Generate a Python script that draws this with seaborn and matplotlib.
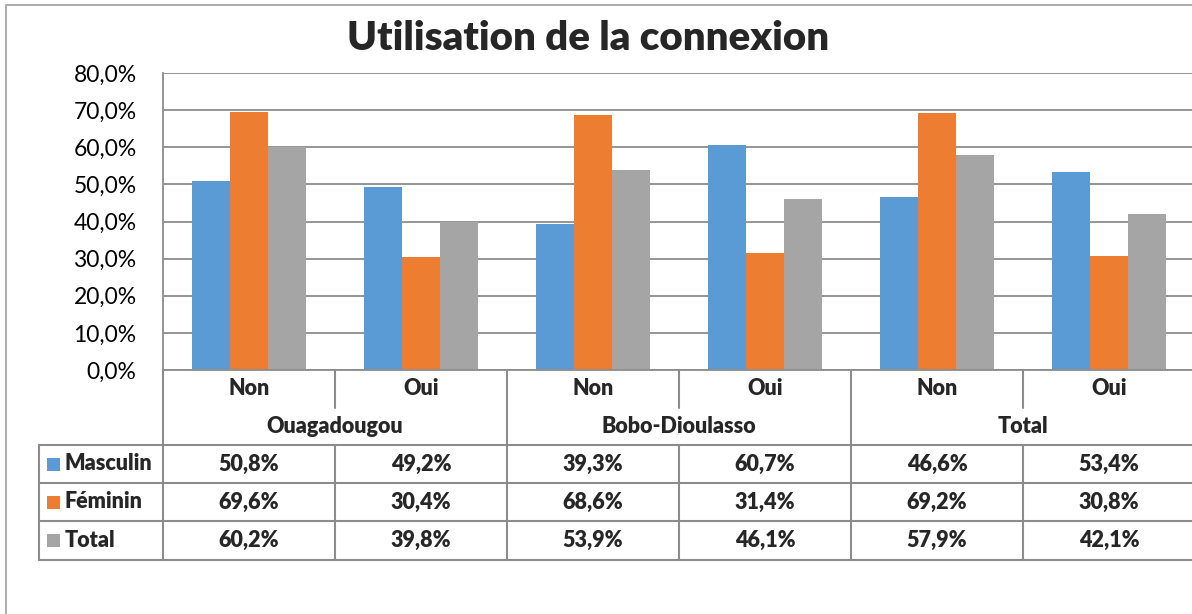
import pandas as pd
import matplotlib.pyplot as plt
import seaborn as sns
from matplotlib.ticker import FuncFormatter
from matplotlib.transforms import blended_transform_factory
from matplotlib.patches import Rectangle

sns.set_style("white")
plt.rcParams["font.family"] = ["Lato", "DejaVu Sans"]

villes = ["Ouagadougou", "Bobo-Dioulasso", "Total"]
reponses = ["Non", "Oui"]
sexes = ["Masculin", "Féminin", "Total"]
masculin = [50.8, 49.2, 39.3, 60.7, 46.6, 53.4]
feminin = [69.6, 30.4, 68.6, 31.4, 69.2, 30.8]
total = [60.2, 39.8, 53.9, 46.1, 57.9, 42.1]
couleurs = ["#5B9BD5", "#ED7D31", "#A5A5A5"]

groupes = [f"{v} {r}" for v in villes for r in reponses]
series = {"Masculin": masculin, "Féminin": feminin, "Total": total}
rows = []
for sexe, vals in series.items():
    for g, val in zip(groupes, vals):
        rows.append({"groupe": g, "sexe": sexe, "valeur": val})
df = pd.DataFrame(rows)

W, H = 1192, 614
fig = plt.figure(figsize=(W / 100, H / 100), dpi=100)
ax = fig.add_axes([163 / W, 1 - 370 / H, 1032 / W, 297 / H])

sns.barplot(data=df, x="groupe", y="valeur", hue="sexe", order=groupes,
            hue_order=sexes, palette=couleurs, width=0.663, gap=0,
            saturation=1, legend=False, ax=ax, edgecolor="none")

grid_c = "#8c8c8c"
ax.set_ylim(0, 80)
ax.set_xlim(-0.5, 5.5)
ax.set_yticks(range(0, 81, 10))
ax.yaxis.set_major_formatter(FuncFormatter(lambda v, p: f"{v:.1f}%".replace(".", ",")))
ax.tick_params(axis="y", length=0, pad=19, labelsize=16.5, labelcolor="black")
ax.set_xticks([])
ax.set_xlabel("")
ax.set_ylabel("")
ax.set_axisbelow(True)
ax.yaxis.grid(True, color=grid_c, lw=1.3)
for s in ["top", "right"]:
    ax.spines[s].set_visible(False)
for s in ["left", "bottom"]:
    ax.spines[s].set_color(grid_c)
    ax.spines[s].set_linewidth(1.3)

# tableau de données sous le graphique
tr = blended_transform_factory(ax.transData, ax.transAxes)


def ya(px):
    return (370 - px) / 297


def xd(px):
    return -0.5 + (px - 163) / 172


lw = 1.5
rb = [370, 407.5, 445, 483, 521, 560]
x_left = xd(39)
for x in [-0.5, 0.5, 1.5, 2.5, 3.5, 4.5]:
    ax.plot([x, x], [ya(rb[0]), ya(rb[1])], color=grid_c, lw=lw, transform=tr, clip_on=False)
for x in [-0.5, 1.5, 3.5]:
    ax.plot([x, x], [ya(rb[1]), ya(rb[2])], color=grid_c, lw=lw, transform=tr, clip_on=False)
for x in [x_left, -0.5, 0.5, 1.5, 2.5, 3.5, 4.5]:
    ax.plot([x, x], [ya(rb[2]), ya(rb[5])], color=grid_c, lw=lw, transform=tr, clip_on=False)
for y in rb[2:]:
    ax.plot([x_left, 5.6], [ya(y), ya(y)], color=grid_c, lw=lw, transform=tr, clip_on=False)

fs = 15.5
fw = "heavy"
for i, g in enumerate(groupes):
    ax.text(i, ya((rb[0] + rb[1]) / 2), reponses[i % 2], ha="center", va="center",
            fontsize=fs, fontweight=fw, transform=tr)
for j, v in enumerate(villes):
    ax.text(2 * j + 0.5, ya((rb[1] + rb[2]) / 2), v, ha="center", va="center",
            fontsize=fs, fontweight=fw, transform=tr)
for k, sexe in enumerate(sexes):
    ymid = ya((rb[2 + k] + rb[3 + k]) / 2)
    ax.add_patch(Rectangle((xd(47), ymid - 6.5 / 297), 13 / 172, 13 / 297,
                           facecolor=couleurs[k], edgecolor="none", transform=tr, clip_on=False))
    ax.text(xd(65), ymid, sexe, ha="left", va="center", fontsize=fs,
            fontweight=fw, transform=tr)
    for i, val in enumerate(series[sexe]):
        ax.text(i, ymid, f"{val:.1f}%".replace(".", ","), ha="center", va="center",
                fontsize=fs, fontweight=fw, transform=tr)

fig.text(588 / W, 1 - 38 / H, "Utilisation de la connexion", ha="center", va="center",
         fontsize=29, fontweight=fw)

fig.add_artist(Rectangle((6 / W, -0.1), 1.2, 1 - 5 / H + 0.1, transform=fig.transFigure,
                         facecolor="none", edgecolor="#a6a6a6", lw=1.3))

fig.savefig("out.png", dpi=100)
